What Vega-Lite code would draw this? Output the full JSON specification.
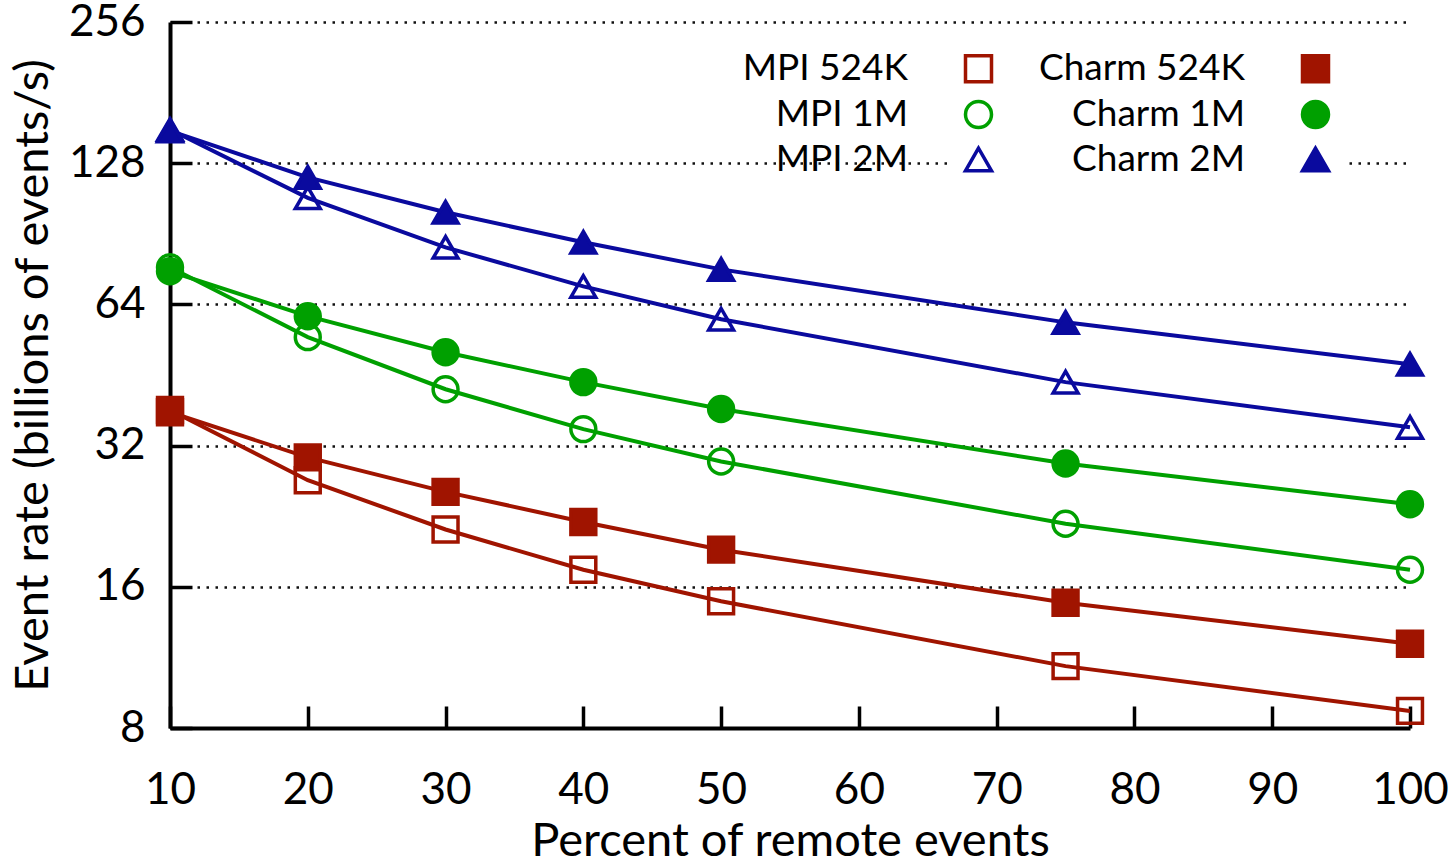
{
  "$schema": "https://vega.github.io/schema/vega-lite/v6.json",
  "width": 1240,
  "height": 706,
  "autosize": {"type": "none"},
  "padding": {"left": 170, "top": 22, "right": 45, "bottom": 137},
  "background": "white",
  "config": {
    "view": {"stroke": null},
    "font": "Lato",
    "axis": {
      "labelFont": "Lato",
      "labelFontSize": 44,
      "labelColor": "black",
      "titleFont": "Lato",
      "titleFontSize": 47,
      "titleFontWeight": "normal",
      "titleColor": "black",
      "domainColor": "black",
      "domainWidth": 4,
      "tickColor": "black",
      "tickWidth": 3.5,
      "tickSize": -22
    }
  },
  "data": {
    "values": [
      {"series": "MPI 524K", "x": 10, "y": 38.1},
      {"series": "MPI 524K", "x": 20, "y": 27.0},
      {"series": "MPI 524K", "x": 30, "y": 21.2},
      {"series": "MPI 524K", "x": 40, "y": 17.4},
      {"series": "MPI 524K", "x": 50, "y": 14.9},
      {"series": "MPI 524K", "x": 75, "y": 10.84},
      {"series": "MPI 524K", "x": 100, "y": 8.7},
      {"series": "Charm 524K", "x": 10, "y": 37.7},
      {"series": "Charm 524K", "x": 20, "y": 30.2},
      {"series": "Charm 524K", "x": 30, "y": 25.5},
      {"series": "Charm 524K", "x": 40, "y": 22.0},
      {"series": "Charm 524K", "x": 50, "y": 19.2},
      {"series": "Charm 524K", "x": 75, "y": 14.8},
      {"series": "Charm 524K", "x": 100, "y": 12.1},
      {"series": "MPI 1M", "x": 10, "y": 76.8},
      {"series": "MPI 1M", "x": 20, "y": 54.5},
      {"series": "MPI 1M", "x": 30, "y": 42.2},
      {"series": "MPI 1M", "x": 40, "y": 34.7},
      {"series": "MPI 1M", "x": 50, "y": 29.6},
      {"series": "MPI 1M", "x": 75, "y": 21.8},
      {"series": "MPI 1M", "x": 100, "y": 17.4},
      {"series": "Charm 1M", "x": 10, "y": 75.3},
      {"series": "Charm 1M", "x": 20, "y": 60.4},
      {"series": "Charm 1M", "x": 30, "y": 50.6},
      {"series": "Charm 1M", "x": 40, "y": 43.7},
      {"series": "Charm 1M", "x": 50, "y": 38.3},
      {"series": "Charm 1M", "x": 75, "y": 29.3},
      {"series": "Charm 1M", "x": 100, "y": 24.0},
      {"series": "MPI 2M", "x": 10, "y": 151},
      {"series": "MPI 2M", "x": 20, "y": 108},
      {"series": "MPI 2M", "x": 30, "y": 84.7},
      {"series": "MPI 2M", "x": 40, "y": 69.9},
      {"series": "MPI 2M", "x": 50, "y": 59.5},
      {"series": "MPI 2M", "x": 75, "y": 43.7},
      {"series": "MPI 2M", "x": 100, "y": 35.0},
      {"series": "Charm 2M", "x": 10, "y": 150},
      {"series": "Charm 2M", "x": 20, "y": 119.4},
      {"series": "Charm 2M", "x": 30, "y": 100.6},
      {"series": "Charm 2M", "x": 40, "y": 86.8},
      {"series": "Charm 2M", "x": 50, "y": 76.0},
      {"series": "Charm 2M", "x": 75, "y": 58.6},
      {"series": "Charm 2M", "x": 100, "y": 47.7}
    ]
  },
  "encoding": {
    "x": {
      "field": "x",
      "type": "quantitative",
      "scale": {"domain": [10, 100], "nice": false, "zero": false},
      "axis": {
        "values": [10, 20, 30, 40, 50, 60, 70, 80, 90, 100],
        "grid": false,
        "labelPadding": 62,
        "labelFlush": false,
        "title": "Percent of remote events",
        "titleBaseline": "alphabetic",
        "titleY": 127,
        "titleX": 620,
        "titleAlign": "center"
      }
    },
    "y": {
      "field": "y",
      "type": "quantitative",
      "scale": {"type": "log", "base": 2, "domain": [8, 256], "nice": false},
      "axis": {
        "values": [8, 16, 32, 64, 128, 256],
        "format": "d",
        "labelPadding": 47,
        "labelFlush": false,
        "grid": true,
        "gridColor": "#111111",
        "gridDash": [2.5, 6.5],
        "gridWidth": 2.5,
        "gridOpacity": 1,
        "title": "Event rate (billions of events/s)",
        "titleAngle": -90,
        "titleBaseline": "alphabetic",
        "titleAlign": "center",
        "titleX": -123,
        "titleY": 353
      }
    },
    "stroke": {
      "field": "series",
      "type": "nominal",
      "scale": {
        "domain": ["MPI 524K", "Charm 524K", "MPI 1M", "Charm 1M", "MPI 2M", "Charm 2M"],
        "range": ["#a01400", "#a01400", "#00a000", "#00a000", "#0a0a9e", "#0a0a9e"]
      },
      "legend": {
        "orient": "none",
        "legendX": 780,
        "legendY": 18,
        "direction": "horizontal",
        "columns": 2,
        "columnPadding": 39,
        "rowPadding": 5,
        "padding": 10,
        "fillColor": "white",
        "strokeColor": null,
        "title": null,
        "labelFont": "Lato",
        "labelFontSize": 37,
        "labelColor": "black",
        "labelAlign": "right",
        "labelBaseline": "middle",
        "labelOffset": -89,
        "labelLimit": 400,
        "symbolSize": 676,
        "symbolStrokeWidth": 3.5,
        "encode": {
          "symbols": {
            "update": {
              "size": {"value": 676},
              "strokeWidth": {"value": 3.5},
              "opacity": {"value": 1}
            }
          }
        }
      }
    }
  },
  "layer": [
    {
      "mark": {"type": "line", "strokeWidth": 4, "clip": false},
      "encoding": {"detail": {"field": "series"}}
    },
    {
      "mark": {"type": "point", "size": 620, "strokeWidth": 3.5, "opacity": 1, "clip": false},
      "encoding": {
        "shape": {
          "field": "series",
          "type": "nominal",
          "scale": {
            "domain": ["MPI 524K", "Charm 524K", "MPI 1M", "Charm 1M", "MPI 2M", "Charm 2M"],
            "range": ["square", "square", "circle", "circle", "triangle-up", "triangle-up"]
          },
          "legend": null
        },
        "fill": {
          "field": "series",
          "type": "nominal",
          "scale": {
            "domain": ["MPI 524K", "Charm 524K", "MPI 1M", "Charm 1M", "MPI 2M", "Charm 2M"],
            "range": ["transparent", "#a01400", "transparent", "#00a000", "transparent", "#0a0a9e"]
          },
          "legend": null
        }
      }
    }
  ]
}
